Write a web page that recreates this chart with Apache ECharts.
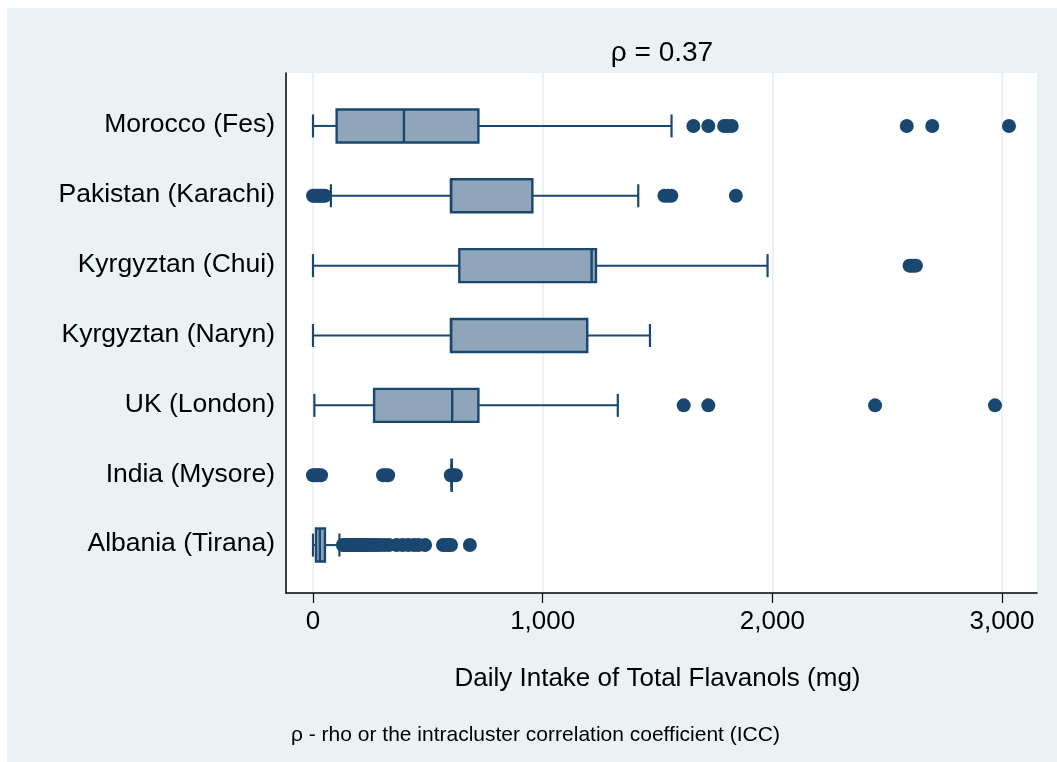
<!DOCTYPE html>
<html>
<head>
<meta charset="utf-8">
<script src="https://cdn.jsdelivr.net/npm/echarts@6/dist/echarts.min.js"></script>
<style>
  html, body { margin: 0; padding: 0; background: #ffffff; }
  #chart { position: absolute; left: 7px; top: 8px; width: 1050px; height: 754px; }
</style>
</head>
<body>
<div id="chart"></div>
<script>
// ---- data ----
const categories = ['Morocco (Fes)', 'Pakistan (Karachi)', 'Kyrgyztan (Chui)', 'Kyrgyztan (Naryn)', 'UK (London)', 'India (Mysore)', 'Albania (Tirana)'];
const whiskerLow  = [0,    78,   0,    0,    6,   604, 0];
const quartile1   = [103,  601,  637,  601,  266, 604, 13];
const medians     = [396,  601,  1213, 601,  606, 604, 30];
const quartile3   = [720,  955,  1232, 1194, 720, 604, 52];
const whiskerHigh = [1561, 1416, 1979, 1467, 1327, 604, 115];

const outMorocco  = [1656, 1721, 1790, 1805, 1823, 2585, 2696, 3030];
const outPakistan = [0, 8, 16, 25, 34, 43, 52, 1530, 1545, 1560, 1841];
const outChui     = [2597, 2606, 2615, 2625];
const outNaryn    = [];
const outUK       = [1614, 1721, 2447, 2969];
const outIndia    = [0, 8, 16, 25, 35, 305, 315, 327, 600, 612, 622];
const outAlbania  = [130, 138, 146, 154, 162, 170, 180, 190, 200, 210, 220, 230, 240, 250, 262, 275, 290, 310, 330, 364, 390, 415, 440, 459, 488, 566, 578, 590, 601, 683];
const outliers = [outMorocco, outPakistan, outChui, outNaryn, outUK, outIndia, outAlbania];

const xTicks = [0, 1000, 2000, 3000];
const titleText = 'ρ = 0.37';
const axisTitle = 'Daily Intake of Total Flavanols (mg)';
const noteText = 'ρ - rho or the intracluster correlation coefficient (ICC)';

// ---- build ----
const navy = '#1A476F';
const boxFill = '#8EA5BA';
const FONT = '"Liberation Sans", Arial, Helvetica, sans-serif';

const boxData = categories.map((c, i) => [i, whiskerLow[i], quartile1[i], medians[i], quartile3[i], whiskerHigh[i]]);
const outlierData = [];
outliers.forEach((arr, i) => arr.forEach(v => outlierData.push([v, i])));

const chart = echarts.init(document.getElementById('chart'), null, { renderer: 'canvas' });

const fmt = v => String(v).replace(/\B(?=(\d{3})+(?!\d))/g, ',');

const option = {
  backgroundColor: '#EAF2F3',
  animation: false,
  grid: [
    { left: 279, right: 20, top: 65, bottom: 169, show: true, backgroundColor: '#ffffff', borderWidth: 0 },
    { left: 279, right: 20, top: 82, bottom: 183 },
    { left: 306, right: 55, top: 65, bottom: 169 }
  ],
  xAxis: [
    { gridIndex: 0, type: 'value', min: -117.5, max: 3152,
      axisLine: { show: true, onZero: false, lineStyle: { color: '#000', width: 1.5 } },
      axisTick: { show: false }, axisLabel: { show: false }, splitLine: { show: false } },
    { gridIndex: 1, type: 'value', min: -117.5, max: 3152,
      axisLine: { show: false }, axisTick: { show: false }, axisLabel: { show: false }, splitLine: { show: false } },
    { gridIndex: 2, type: 'value', min: xTicks[0], max: xTicks[xTicks.length - 1], interval: 1000,
      axisLine: { show: false, onZero: false },
      axisTick: { show: true, length: 10, lineStyle: { color: '#000', width: 1.2 } },
      axisLabel: { show: true, margin: 16, fontSize: 26, color: '#000', fontFamily: FONT, formatter: fmt },
      splitLine: { show: true, lineStyle: { color: '#EAF2F3', width: 2 } },
      name: axisTitle, nameLocation: 'middle', nameGap: 73,
      nameTextStyle: { fontSize: 26, color: '#000', fontFamily: FONT } }
  ],
  yAxis: [
    { gridIndex: 0, type: 'value', min: 0, max: 1,
      axisLine: { show: true, onZero: false, lineStyle: { color: '#000', width: 1.5 } },
      axisTick: { show: false }, axisLabel: { show: false }, splitLine: { show: false } },
    { gridIndex: 1, type: 'category', data: categories, inverse: true,
      axisLine: { show: false, onZero: false }, axisTick: { show: false }, splitLine: { show: false },
      axisLabel: { show: true, margin: 11, fontSize: 26.5, color: '#000', fontFamily: FONT, padding: [6, 0, 0, 0] } },
    { gridIndex: 2, type: 'value', show: false }
  ],
  graphic: [
    { type: 'text', x: 655, y: 45, style: { text: titleText, fill: '#000', font: '28px ' + FONT, textAlign: 'center', textVerticalAlign: 'middle' } },
    { type: 'text', x: 284, y: 727, style: { text: noteText, fill: '#000', font: '21px ' + FONT, textAlign: 'left', textVerticalAlign: 'middle' } }
  ],
  series: [
    {
      type: 'custom', xAxisIndex: 1, yAxisIndex: 1, data: boxData,
      encode: { x: [1, 2, 3, 4, 5], y: 0 }, z: 3,
      renderItem: function (params, api) {
        const idx = api.value(0);
        const pMin = api.coord([api.value(1), idx]);
        const pQ1 = api.coord([api.value(2), idx]);
        const pMed = api.coord([api.value(3), idx]);
        const pQ3 = api.coord([api.value(4), idx]);
        const pMax = api.coord([api.value(5), idx]);
        const cy = pMin[1] + 1;
        const bh = 16.5, ch = 11.5;
        const ls = { stroke: navy, lineWidth: 2 };
        const cs = { stroke: navy, lineWidth: 2.2 };
        return {
          type: 'group',
          children: [
            { type: 'line', shape: { x1: pMin[0], y1: cy, x2: pQ1[0], y2: cy }, style: ls },
            { type: 'line', shape: { x1: pQ3[0], y1: cy, x2: pMax[0], y2: cy }, style: ls },
            { type: 'line', shape: { x1: pMin[0], y1: cy - ch, x2: pMin[0], y2: cy + ch }, style: cs },
            { type: 'line', shape: { x1: pMax[0], y1: cy - ch, x2: pMax[0], y2: cy + ch }, style: cs },
            { type: 'rect', shape: { x: pQ1[0], y: cy - bh, width: pQ3[0] - pQ1[0], height: 2 * bh }, style: { fill: boxFill, stroke: navy, lineWidth: 2.4 } },
            { type: 'line', shape: { x1: pMed[0], y1: cy - bh, x2: pMed[0], y2: cy + bh }, style: { stroke: navy, lineWidth: 2.4 } }
          ]
        };
      }
    },
    {
      type: 'scatter', xAxisIndex: 1, yAxisIndex: 1, data: outlierData, z: 4,
      symbol: 'circle', symbolSize: 14, symbolOffset: [0, 1], itemStyle: { color: navy, opacity: 1 },
      clip: false
    }
  ]
};
chart.setOption(option);
</script>
</body>
</html>
